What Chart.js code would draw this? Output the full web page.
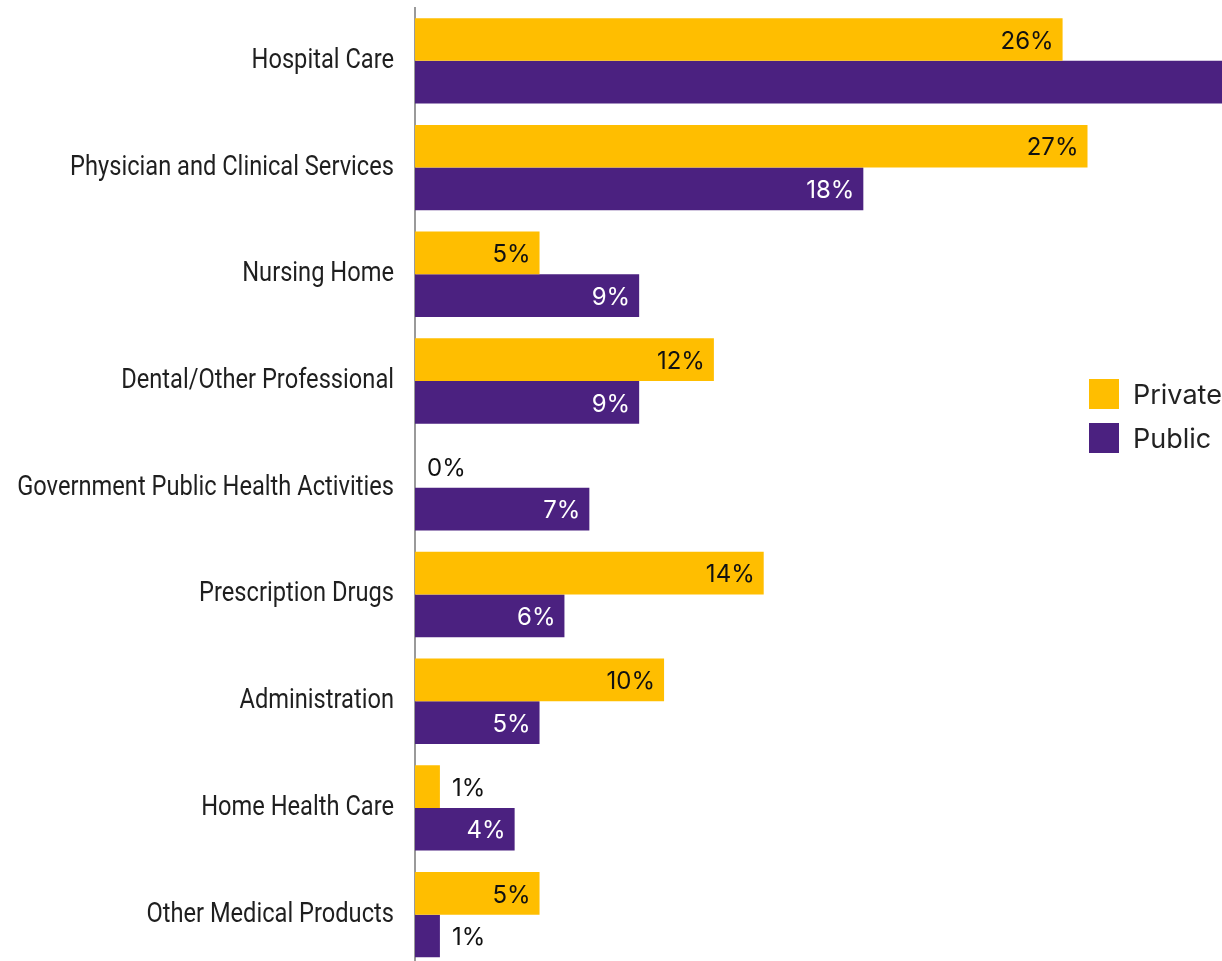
<!DOCTYPE html>
<html>
<head>
<meta charset="utf-8">
<script src="https://cdn.jsdelivr.net/npm/chart.js@4"></script>
<style>
  html, body { margin: 0; padding: 0; background: #fff; overflow: hidden; }
  #wrap { position: relative; width: 1222px; height: 968px; }
  .legend { position: absolute; left: 1089px; top: 379px; font-family: Inter, sans-serif; font-size: 27px; color: #222; }
  .legend div { display: flex; align-items: center; height: 30px; margin-bottom: 14px; }
  .legend span.sw { display: inline-block; width: 30px; height: 30px; margin-right: 14px; }
</style>
</head>
<body>
<div id="wrap">
  <canvas id="chart" width="1222" height="968"></canvas>
  <div class="legend" id="legend"></div>
</div>
<script>
const categories = [
    'Hospital Care',
    'Physician and Clinical Services',
    'Nursing Home',
    'Dental/Other Professional',
    'Government Public Health Activities',
    'Prescription Drugs',
    'Administration',
    'Home Health Care',
    'Other Medical Products'
];
const privateShare = [26, 27, 5, 12, 0, 14, 10, 1, 5];
const publicShare = [37, 18, 9, 9, 7, 6, 5, 4, 1]; // hospital value runs off the picture
const seriesNames = ['Private', 'Public'];
const seriesColors = ['#FFBE00', '#4B2180'];

// legend as plain html
const legendEl = document.getElementById('legend');
seriesNames.forEach((name, i) => {
    const row = document.createElement('div');
    row.innerHTML = '<span class="sw" style="background:' + seriesColors[i] + '"></span>' + name;
    legendEl.appendChild(row);
});

// category names, drawn narrow like a condensed face
const categoryLabels = {
    id: 'categoryLabels',
    afterDraw(chart) {
        const ctx = chart.ctx;
        const yScale = chart.scales.y;
        ctx.save();
        ctx.font = '28px Roboto, sans-serif';
        ctx.fillStyle = '#1f1f1f';
        ctx.textAlign = 'right';
        ctx.textBaseline = 'middle';
        categories.forEach((name, i) => {
            const y = yScale.getPixelForValue(i);
            ctx.save();
            ctx.translate(yScale.right - 21, y);
            ctx.scale(0.845, 1);
            ctx.fillText(name, 0, 0);
            ctx.restore();
        });
        ctx.restore();
    }
};

// value labels at the end of each bar
const valueLabels = {
    id: 'valueLabels',
    afterDatasetsDraw(chart) {
        const ctx = chart.ctx;
        ctx.save();
        ctx.font = '24px Inter, sans-serif';
        ctx.textBaseline = 'middle';
        chart.data.datasets.forEach((ds, di) => {
            chart.getDatasetMeta(di).data.forEach((bar, i) => {
                const v = ds.data[i];
                const txt = v + '%';
                if (v <= 2) {
                    ctx.textAlign = 'left';
                    ctx.fillStyle = '#111';
                    ctx.fillText(txt, bar.x + 12, bar.y + 2);
                } else {
                    ctx.textAlign = 'right';
                    ctx.fillStyle = di === 0 ? '#111' : '#fff';
                    ctx.fillText(txt, bar.x - 9, bar.y + 2);
                }
            });
        });
        ctx.restore();
    }
};

new Chart(document.getElementById('chart').getContext('2d'), {
    type: 'bar',
    data: {
        labels: categories,
        datasets: [
            { label: seriesNames[0], data: privateShare, backgroundColor: seriesColors[0] },
            { label: seriesNames[1], data: publicShare, backgroundColor: seriesColors[1] }
        ]
    },
    options: {
        indexAxis: 'y',
        responsive: false,
        animation: false,
        layout: { padding: { top: 7.5, right: 0, bottom: 0, left: 0 } },
        datasets: { bar: { categoryPercentage: 0.8, barPercentage: 1.0 } },
        plugins: {
            legend: { display: false },
            tooltip: { enabled: false }
        },
        scales: {
            x: { display: false, min: 0, max: 32.4 },
            y: {
                grid: { display: false },
                border: { display: true, color: '#9a9a9a', width: 2 },
                ticks: { display: false },
                afterFit(scale) { scale.width = 415; }
            }
        }
    },
    plugins: [valueLabels, categoryLabels]
});
</script>
</body>
</html>
